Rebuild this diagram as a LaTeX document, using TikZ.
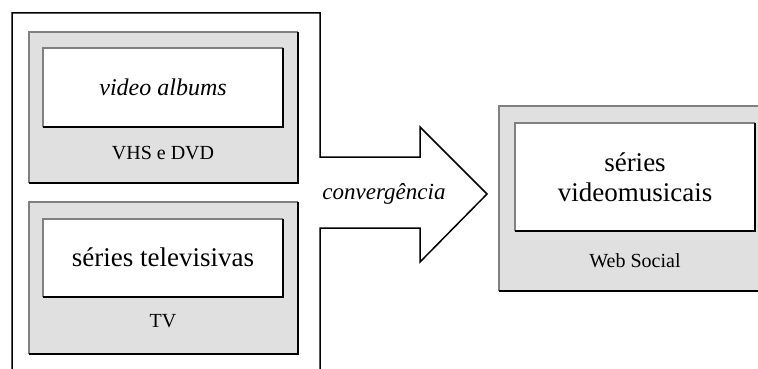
\documentclass[tikz,border=0pt]{standalone}
\usepackage{fontspec}
\setmainfont{Liberation Serif}
\definecolor{panelgray}{HTML}{E0E0E0}
\definecolor{edgegray}{HTML}{808080}
\begin{document}
\begin{tikzpicture}[x=1pt,y=-1pt,
  outline/.style={line width=1.5pt,line join=miter},
  labeltext/.style={font=\fontsize{20}{22}\selectfont,inner sep=0pt},
  titletext/.style={font=\fontsize{27}{30}\selectfont,inner sep=0pt,align=center},
  ittext/.style={font=\fontsize{24}{28}\itshape\selectfont,inner sep=0pt}]
\useasboundingbox (0,0) rectangle (758,369);

% sunken box: light edge on top/left, dark edge on right/bottom
\newcommand{\sunkbox}[5]{%
  \fill[#5] (#1,#2) rectangle (#3,#4);
  \draw[edgegray,line width=1.2pt] (#1,#4) -- (#1,#2) -- (#3,#2);
  \draw[black,line width=1.2pt] (#3,#2) -- (#3,#4) -- (#1,#4);}

% left frame merging into the arrow
\draw[outline] (12,372) -- (12,13) -- (320,13) -- (320,157) -- (420,157)
  -- (420,127) -- (487,194) -- (420,262) -- (420,228) -- (320,228) -- (320,372);

% VHS e DVD panel
\sunkbox{29}{32}{298}{183}{panelgray}
\sunkbox{43}{48}{283}{127}{white}
\node[ittext] (va) at (163,87) {video albums};
\node[labeltext] (vhs) at (163,153) {VHS e DVD};

% TV panel
\sunkbox{29}{202}{298}{354}{panelgray}
\sunkbox{43}{219}{283}{297}{white}
\node[titletext] (st) at (163,257) {séries televisivas};
\node[labeltext] (tv) at (163,321) {TV};

% Web Social panel
\sunkbox{499}{106}{760}{291}{panelgray}
\sunkbox{515}{123}{755}{231}{white}
\node[titletext] (sv) at (635,177) {séries\\[0pt]videomusicais};
\node[labeltext] (ws) at (635,261) {Web Social};

% arrow label
\node[ittext,font=\fontsize{23}{27}\itshape\selectfont] (cv) at (384,194) {convergência};
\end{tikzpicture}
\end{document}
